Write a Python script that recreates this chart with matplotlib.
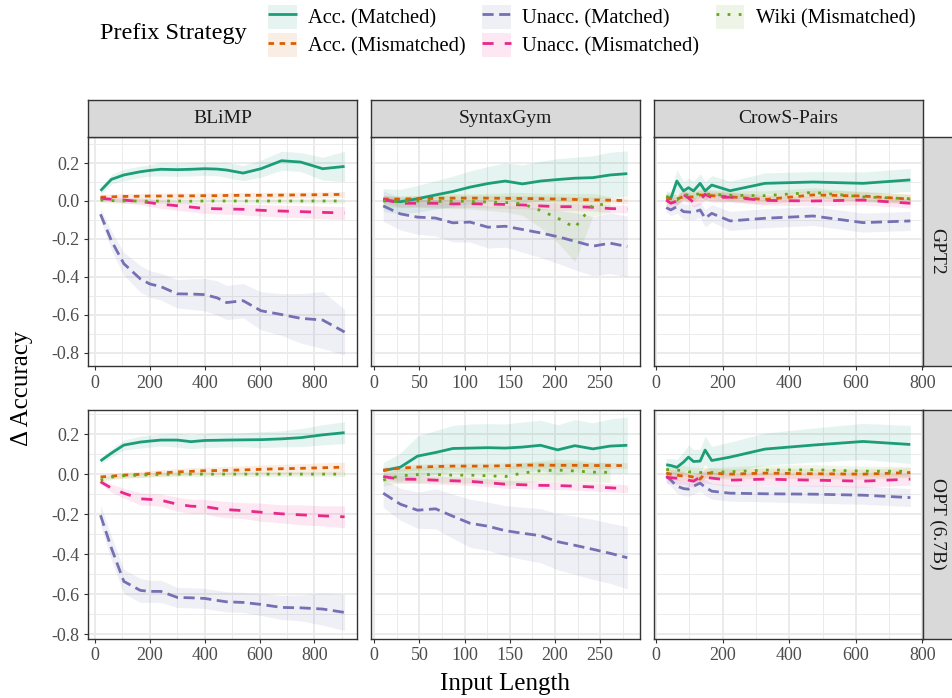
import numpy as np
import matplotlib
matplotlib.use('Agg')
import matplotlib.pyplot as plt
from matplotlib.lines import Line2D
from matplotlib.patches import Patch

plt.rcParams['font.family'] = ['Liberation Serif', 'DejaVu Serif']
plt.rcParams['axes.unicode_minus'] = False

# facets
models = ['GPT2', 'OPT (6.7B)']
datasets = ['BLiMP', 'SyntaxGym', 'CrowS-Pairs']
strategies = ['Acc. (Matched)', 'Acc. (Mismatched)', 'Unacc. (Matched)',
              'Unacc. (Mismatched)', 'Wiki (Mismatched)']

# input lengths per dataset
blimp_x = [20, 60, 105, 165, 200, 240, 300, 350, 400, 445, 480, 540, 605, 680, 750, 830, 910]
syntax_x = [10, 29, 48, 68, 87, 106, 126, 145, 164, 184, 203, 222, 242, 261, 280]
crows_x = [30, 44, 62, 82, 97, 112, 132, 147, 167, 222, 327, 472, 622, 764]

# ---- GPT2 / BLiMP ----
gpt2_blimp_acc_m = [0.054, 0.114, 0.137, 0.154, 0.161, 0.167, 0.165, 0.167, 0.170, 0.168, 0.163, 0.147, 0.170, 0.212, 0.205, 0.170, 0.182]
gpt2_blimp_acc_m_sd = [0.02, 0.025, 0.03, 0.03, 0.03, 0.035, 0.035, 0.035, 0.035, 0.035, 0.04, 0.04, 0.045, 0.05, 0.05, 0.06, 0.08]
gpt2_blimp_acc_mm = [0.02, 0.022, 0.024, 0.025, 0.026, 0.026, 0.027, 0.027, 0.028, 0.028, 0.029, 0.030, 0.030, 0.031, 0.032, 0.033, 0.035]
gpt2_blimp_acc_mm_sd = 0.015
gpt2_blimp_unacc_m = [-0.07, -0.21, -0.33, -0.41, -0.437, -0.451, -0.489, -0.49, -0.493, -0.51, -0.535, -0.525, -0.578, -0.598, -0.618, -0.627, -0.69]
gpt2_blimp_unacc_m_sd = [0.03, 0.05, 0.06, 0.07, 0.07, 0.07, 0.075, 0.08, 0.085, 0.09, 0.09, 0.09, 0.1, 0.11, 0.13, 0.15, 0.12]
gpt2_blimp_unacc_mm = [0.014, 0.009, 0.005, -0.003, -0.009, -0.017, -0.025, -0.032, -0.039, -0.041, -0.042, -0.044, -0.049, -0.053, -0.056, -0.06, -0.063]
gpt2_blimp_unacc_mm_sd = [0.01, 0.012, 0.015, 0.018, 0.02, 0.022, 0.024, 0.025, 0.026, 0.027, 0.028, 0.029, 0.03, 0.031, 0.032, 0.033, 0.034]
gpt2_blimp_wiki = [0.005, 0.002, 0.0, 0.0, -0.001, 0.0, 0.0, -0.001, 0.0, 0.0, 0.0, 0.0, 0.0, 0.0, 0.0, 0.0, 0.0]
gpt2_blimp_wiki_sd = 0.012

# ---- GPT2 / SyntaxGym ----
gpt2_syntax_acc_m = [0.005, -0.004, 0.012, 0.032, 0.05, 0.073, 0.092, 0.105, 0.09, 0.105, 0.113, 0.12, 0.123, 0.137, 0.144]
gpt2_syntax_acc_m_sd = [0.06, 0.065, 0.07, 0.075, 0.08, 0.085, 0.09, 0.095, 0.1, 0.105, 0.11, 0.11, 0.115, 0.12, 0.12]
gpt2_syntax_acc_mm = [0.01, 0.01, 0.012, 0.014, 0.015, 0.015, 0.015, 0.014, 0.013, 0.012, 0.01, 0.008, 0.006, 0.004, 0.002]
gpt2_syntax_acc_mm_sd = 0.015
gpt2_syntax_unacc_m = [-0.026, -0.068, -0.085, -0.09, -0.115, -0.111, -0.138, -0.133, -0.15, -0.168, -0.188, -0.212, -0.238, -0.222, -0.24]
gpt2_syntax_unacc_m_sd = [0.08, 0.085, 0.09, 0.095, 0.1, 0.105, 0.11, 0.11, 0.12, 0.13, 0.14, 0.15, 0.155, 0.16, 0.16]
gpt2_syntax_unacc_mm = [0.009, -0.012, -0.012, -0.012, -0.015, -0.014, -0.016, -0.018, -0.021, -0.026, -0.03, -0.03, -0.033, -0.04, -0.042]
gpt2_syntax_unacc_mm_sd = 0.02
gpt2_syntax_wiki = [0.0, -0.005, 0.0, -0.003, 0.0, -0.003, -0.005, -0.008, -0.015, -0.05, -0.09, -0.14, -0.02, -0.017]
gpt2_syntax_wiki_sd = [0.03, 0.03, 0.03, 0.035, 0.04, 0.04, 0.045, 0.05, 0.06, 0.09, 0.13, 0.18, 0.06, 0.04]

# ---- GPT2 / CrowS-Pairs ----
gpt2_crows_acc_m = [0.023, 0.014, 0.105, 0.053, 0.07, 0.053, 0.093, 0.053, 0.084, 0.054, 0.093, 0.1, 0.093, 0.111]
gpt2_crows_acc_m_sd = [0.03, 0.035, 0.06, 0.05, 0.05, 0.05, 0.05, 0.05, 0.05, 0.05, 0.055, 0.055, 0.06, 0.06]
gpt2_crows_acc_mm = [0.014, 0.012, 0.01, 0.023, 0.02, 0.022, 0.032, 0.03, 0.028, 0.022, 0.008, 0.032, 0.026, 0.01]
gpt2_crows_acc_mm_sd = 0.025
gpt2_crows_unacc_m = [-0.035, -0.047, -0.03, -0.056, -0.058, -0.06, -0.047, -0.091, -0.065, -0.105, -0.091, -0.079, -0.114, -0.105]
gpt2_crows_unacc_m_sd = [0.025, 0.03, 0.035, 0.04, 0.04, 0.04, 0.04, 0.045, 0.045, 0.05, 0.05, 0.05, 0.05, 0.05]
gpt2_crows_unacc_mm = [0.005, -0.012, 0.0, 0.035, 0.015, -0.007, 0.005, 0.035, 0.018, 0.02, 0.003, 0.0, 0.005, -0.012]
gpt2_crows_unacc_mm_sd = 0.025
gpt2_crows_wiki = [0.023, 0.014, 0.005, 0.037, 0.03, 0.03, 0.04, 0.035, 0.035, 0.03, 0.028, 0.045, 0.022, 0.012]
gpt2_crows_wiki_sd = 0.025

# ---- OPT / BLiMP ----
opt_blimp_acc_m = [0.066, 0.105, 0.145, 0.16, 0.165, 0.17, 0.17, 0.162, 0.168, 0.169, 0.17, 0.171, 0.172, 0.176, 0.182, 0.196, 0.207]
opt_blimp_acc_m_sd = [0.015, 0.02, 0.025, 0.03, 0.03, 0.03, 0.035, 0.035, 0.035, 0.035, 0.035, 0.035, 0.04, 0.04, 0.045, 0.05, 0.055]
opt_blimp_acc_mm = [-0.014, -0.01, -0.005, -0.001, 0.003, 0.006, 0.011, 0.014, 0.017, 0.018, 0.019, 0.021, 0.024, 0.027, 0.029, 0.032, 0.035]
opt_blimp_acc_mm_sd = [0.012, 0.012, 0.014, 0.015, 0.015, 0.016, 0.017, 0.018, 0.018, 0.019, 0.02, 0.02, 0.021, 0.022, 0.023, 0.024, 0.025]
opt_blimp_unacc_m = [-0.205, -0.37, -0.535, -0.58, -0.585, -0.585, -0.615, -0.617, -0.62, -0.63, -0.637, -0.64, -0.65, -0.665, -0.667, -0.673, -0.69]
opt_blimp_unacc_m_sd = [0.05, 0.06, 0.06, 0.06, 0.055, 0.055, 0.05, 0.05, 0.05, 0.05, 0.05, 0.05, 0.055, 0.06, 0.065, 0.08, 0.09]
opt_blimp_unacc_mm = [-0.038, -0.07, -0.095, -0.123, -0.126, -0.13, -0.15, -0.16, -0.162, -0.172, -0.177, -0.182, -0.19, -0.198, -0.203, -0.208, -0.213]
opt_blimp_unacc_mm_sd = [0.012, 0.02, 0.025, 0.03, 0.03, 0.03, 0.035, 0.035, 0.035, 0.04, 0.04, 0.04, 0.045, 0.045, 0.05, 0.05, 0.055]
opt_blimp_wiki = [-0.03, -0.015, -0.008, -0.005, -0.003, -0.001, 0.0, 0.0, 0.0, 0.0, 0.0, 0.0, 0.0, 0.0, 0.0, 0.0, 0.0]
opt_blimp_wiki_sd = 0.012

# ---- OPT / SyntaxGym ----
opt_syntax_acc_m = [0.017, 0.035, 0.09, 0.108, 0.128, 0.13, 0.132, 0.13, 0.135, 0.144, 0.121, 0.142, 0.126, 0.14, 0.144]
opt_syntax_acc_m_sd = [0.04, 0.07, 0.1, 0.11, 0.115, 0.12, 0.12, 0.12, 0.125, 0.125, 0.125, 0.13, 0.13, 0.135, 0.14]
opt_syntax_acc_mm = [0.02, 0.03, 0.035, 0.038, 0.04, 0.04, 0.04, 0.042, 0.045, 0.045, 0.044, 0.044, 0.043, 0.043, 0.043]
opt_syntax_acc_mm_sd = 0.015
opt_syntax_unacc_m = [-0.095, -0.15, -0.18, -0.173, -0.21, -0.245, -0.26, -0.282, -0.295, -0.307, -0.337, -0.355, -0.375, -0.395, -0.417]
opt_syntax_unacc_m_sd = [0.07, 0.08, 0.09, 0.1, 0.11, 0.12, 0.12, 0.125, 0.13, 0.135, 0.14, 0.145, 0.15, 0.15, 0.155]
opt_syntax_unacc_mm = [-0.012, -0.025, -0.026, -0.03, -0.033, -0.036, -0.043, -0.05, -0.053, -0.056, -0.057, -0.06, -0.064, -0.068, -0.073]
opt_syntax_unacc_mm_sd = 0.02
opt_syntax_wiki = [-0.03, -0.008, -0.002, -0.002, -0.005, -0.005, -0.008, -0.012, 0.005, 0.017, 0.02, 0.016, 0.01, 0.009]
opt_syntax_wiki_sd = [0.03, 0.035, 0.04, 0.04, 0.04, 0.04, 0.04, 0.045, 0.05, 0.05, 0.055, 0.055, 0.05, 0.05]

# ---- OPT / CrowS-Pairs ----
opt_crows_acc_m = [0.047, 0.043, 0.034, 0.06, 0.085, 0.063, 0.065, 0.12, 0.068, 0.085, 0.125, 0.145, 0.163, 0.148]
opt_crows_acc_m_sd = [0.03, 0.035, 0.04, 0.05, 0.06, 0.06, 0.06, 0.07, 0.07, 0.075, 0.08, 0.085, 0.09, 0.095]
opt_crows_acc_mm = [0.005, 0.0, -0.005, -0.01, -0.01, -0.015, -0.025, 0.005, 0.005, 0.0, 0.005, 0.002, 0.0, 0.008]
opt_crows_acc_mm_sd = 0.025
opt_crows_unacc_m = [-0.01, -0.03, -0.06, -0.072, -0.075, -0.06, -0.045, -0.065, -0.085, -0.095, -0.098, -0.1, -0.105, -0.117]
opt_crows_unacc_m_sd = [0.03, 0.03, 0.035, 0.035, 0.035, 0.04, 0.04, 0.04, 0.04, 0.04, 0.04, 0.045, 0.045, 0.045]
opt_crows_unacc_mm = [-0.015, -0.018, -0.02, -0.02, -0.03, -0.035, -0.015, -0.015, -0.02, -0.03, -0.025, -0.03, -0.035, -0.025]
opt_crows_unacc_mm_sd = 0.03
opt_crows_wiki = [0.023, 0.022, 0.02, 0.018, 0.012, 0.01, 0.008, 0.008, 0.008, 0.012, 0.02, 0.022, 0.015, 0.014]
opt_crows_wiki_sd = 0.025

colors = ['#1B9E77', '#D95F02', '#7570B3', '#E7298A', '#66A61E']
dashes = [None, (2, 2), (4, 2), (4, 4), (1, 3)]

y_ticks = [-0.8, -0.6, -0.4, -0.2, 0.0, 0.2]
y_tick_labels = ['-0.8', '-0.6', '-0.4', '-0.2', '0.0', '0.2']

panels = {
    ('GPT2', 'BLiMP'): [(gpt2_blimp_acc_m, gpt2_blimp_acc_m_sd), (gpt2_blimp_acc_mm, gpt2_blimp_acc_mm_sd),
                        (gpt2_blimp_unacc_m, gpt2_blimp_unacc_m_sd), (gpt2_blimp_unacc_mm, gpt2_blimp_unacc_mm_sd),
                        (gpt2_blimp_wiki, gpt2_blimp_wiki_sd)],
    ('GPT2', 'SyntaxGym'): [(gpt2_syntax_acc_m, gpt2_syntax_acc_m_sd), (gpt2_syntax_acc_mm, gpt2_syntax_acc_mm_sd),
                            (gpt2_syntax_unacc_m, gpt2_syntax_unacc_m_sd), (gpt2_syntax_unacc_mm, gpt2_syntax_unacc_mm_sd),
                            (gpt2_syntax_wiki, gpt2_syntax_wiki_sd)],
    ('GPT2', 'CrowS-Pairs'): [(gpt2_crows_acc_m, gpt2_crows_acc_m_sd), (gpt2_crows_acc_mm, gpt2_crows_acc_mm_sd),
                              (gpt2_crows_unacc_m, gpt2_crows_unacc_m_sd), (gpt2_crows_unacc_mm, gpt2_crows_unacc_mm_sd),
                              (gpt2_crows_wiki, gpt2_crows_wiki_sd)],
    ('OPT (6.7B)', 'BLiMP'): [(opt_blimp_acc_m, opt_blimp_acc_m_sd), (opt_blimp_acc_mm, opt_blimp_acc_mm_sd),
                              (opt_blimp_unacc_m, opt_blimp_unacc_m_sd), (opt_blimp_unacc_mm, opt_blimp_unacc_mm_sd),
                              (opt_blimp_wiki, opt_blimp_wiki_sd)],
    ('OPT (6.7B)', 'SyntaxGym'): [(opt_syntax_acc_m, opt_syntax_acc_m_sd), (opt_syntax_acc_mm, opt_syntax_acc_mm_sd),
                                  (opt_syntax_unacc_m, opt_syntax_unacc_m_sd), (opt_syntax_unacc_mm, opt_syntax_unacc_mm_sd),
                                  (opt_syntax_wiki, opt_syntax_wiki_sd)],
    ('OPT (6.7B)', 'CrowS-Pairs'): [(opt_crows_acc_m, opt_crows_acc_m_sd), (opt_crows_acc_mm, opt_crows_acc_mm_sd),
                                    (opt_crows_unacc_m, opt_crows_unacc_m_sd), (opt_crows_unacc_mm, opt_crows_unacc_mm_sd),
                                    (opt_crows_wiki, opt_crows_wiki_sd)],
}
x_by_ds = {'BLiMP': blimp_x, 'SyntaxGym': syntax_x, 'CrowS-Pairs': crows_x}
xlim_by_ds = {'BLiMP': (-24.5, 954.5), 'SyntaxGym': (-3.5, 293.5), 'CrowS-Pairs': (-6.7, 800.7)}
xmajor_by_ds = {'BLiMP': np.arange(0, 801, 200), 'SyntaxGym': np.arange(0, 251, 50), 'CrowS-Pairs': np.arange(0, 801, 200)}
xminor_by_ds = {'BLiMP': np.arange(100, 901, 200), 'SyntaxGym': np.arange(25, 276, 50), 'CrowS-Pairs': np.arange(100, 701, 200)}
# free y scale per row
ylim_by_row = [(-0.869, 0.337), (-0.82, 0.32)]

W, H = 952, 698
fig = plt.figure(figsize=(W / 100, H / 100), dpi=100)


def box(left, top, w, h):
    return [left / W, 1 - (top + h) / H, w / W, h / H]


col_left = [88.3, 371, 654]
col_w = 268.5
row_top = [137, 410]
row_h = [229, 228.5]
border = '#333333'
lw = 2.0

for r, model in enumerate(models):
    for c, ds in enumerate(datasets):
        ax = fig.add_axes(box(col_left[c], row_top[r], col_w, row_h[r]))
        xs = x_by_ds[ds]
        series = panels[(model, ds)]
        for (y, sd), col in zip(series, colors):
            y = np.array(y)
            x = np.array(xs[:len(y)])
            sd = np.broadcast_to(np.array(sd, dtype=float), y.shape)
            ax.fill_between(x, y - sd, y + sd, color=col, alpha=0.11, lw=0)
        for (y, sd), col, d in zip(series, colors, dashes):
            x = xs[:len(y)]
            if d is None:
                ax.plot(x, y, color=col, lw=lw, solid_capstyle='butt')
            else:
                ax.plot(x, y, color=col, lw=lw, linestyle=(0, d), dash_capstyle='butt')

        ax.set_xlim(*xlim_by_ds[ds])
        ax.set_ylim(*ylim_by_row[r])
        ax.set_xticks(xmajor_by_ds[ds])
        ax.set_xticks(xminor_by_ds[ds], minor=True)
        ax.set_yticks(y_ticks)
        ax.set_yticks(np.arange(-0.7, 0.31, 0.2), minor=True)
        ax.grid(which='major', color='#EBEBEB', lw=1.4)
        ax.grid(which='minor', color='#EBEBEB', lw=0.7)
        ax.set_axisbelow(True)
        for s in ax.spines.values():
            s.set_color(border)
            s.set_linewidth(1.0)
        ax.tick_params(which='minor', length=0)
        ax.tick_params(which='major', length=2.75, width=0.8, color=border,
                       labelcolor='#4D4D4D', labelsize=13, pad=3.5)
        if c == 0:
            ax.set_yticklabels(y_tick_labels)
        else:
            ax.tick_params(axis='y', which='both', left=False, labelleft=False)

        # top strips
        if r == 0:
            sax = fig.add_axes(box(col_left[c], 100, col_w, 37))
            sax.set_facecolor('#D9D9D9')
            sax.set_xticks([])
            sax.set_yticks([])
            for s in sax.spines.values():
                s.set_color(border)
                s.set_linewidth(1.0)
            sax.text(0.5, 0.5, ds, ha='center', va='center', fontsize=14,
                     color='#1A1A1A', transform=sax.transAxes)
        # right strips
        if c == 2:
            sax = fig.add_axes(box(922.7, row_top[r], 34, row_h[r]))
            sax.set_facecolor('#D9D9D9')
            sax.set_xticks([])
            sax.set_yticks([])
            for s in sax.spines.values():
                s.set_color(border)
                s.set_linewidth(1.0)
            sax.text(14.5 / 34, 0.5, model, ha='center', va='center', fontsize=14,
                     rotation=-90, color='#1A1A1A', transform=sax.transAxes)

# legend
handles = []
for col, d in zip(colors, dashes):
    patch = Patch(facecolor=col, alpha=0.11, edgecolor='none')
    if d is None:
        line = Line2D([], [], color=col, lw=lw, solid_capstyle='butt')
    else:
        line = Line2D([], [], color=col, lw=lw, linestyle=(0, d), dash_capstyle='butt')
    handles.append((patch, line))

fig.legend(handles, strategies, ncol=3, loc='upper left',
           bbox_to_anchor=(268 / W, 1 - 5 / H), frameon=False, fontsize=14.8,
           handlelength=1.4, handleheight=1.4, handletextpad=0.55,
           columnspacing=0.8, labelspacing=0.22, borderpad=0, borderaxespad=0)
fig.text(100 / W, 1 - 33 / H, 'Prefix Strategy', fontsize=17.5, ha='left', va='center')

fig.text(505 / W, 1 - 684 / H, 'Input Length', fontsize=18, ha='center', va='center')
fig.text(22 / W, 1 - 388 / H, 'Δ Accuracy', fontsize=18, ha='center', va='center', rotation=90)

fig.savefig('out.png', dpi=100)
